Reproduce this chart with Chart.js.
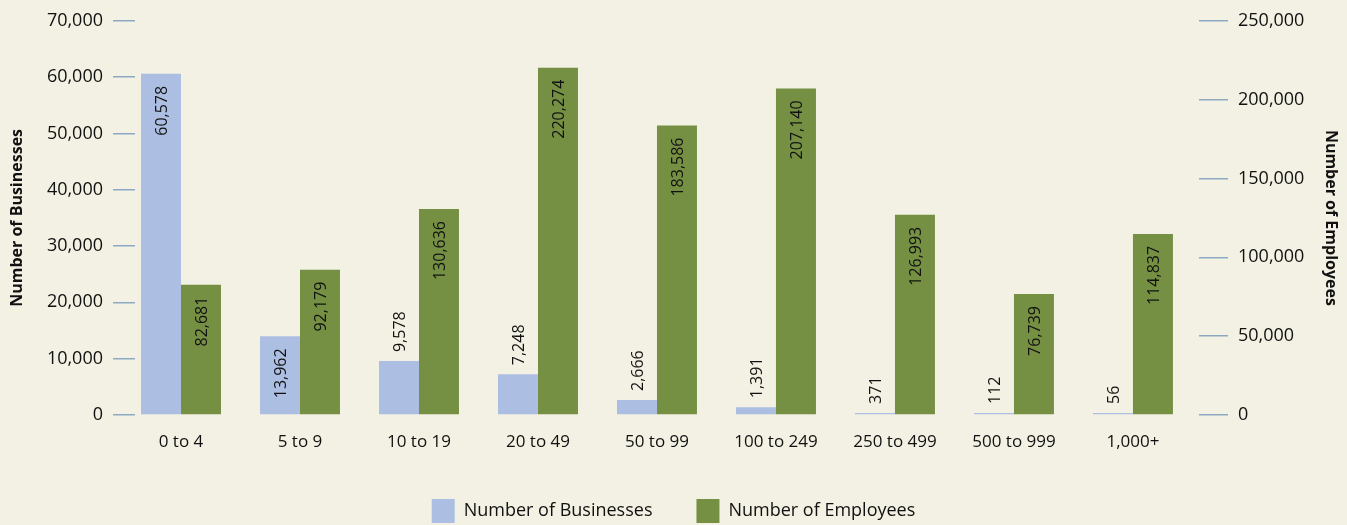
<!DOCTYPE html>
<html>
<head>
<meta charset="utf-8">
<script src="https://cdn.jsdelivr.net/npm/chart.js@4/dist/chart.umd.min.js"></script>
<style>
  html, body { margin: 0; padding: 0; background: #f3f1e3; }
  canvas { display: block; }
</style>
</head>
<body>
<canvas id="chart" width="1347" height="525"></canvas>
<script>
const categories = ['0 to 4', '5 to 9', '10 to 19', '20 to 49', '50 to 99', '100 to 249', '250 to 499', '500 to 999', '1,000+'];
const businesses = [60578, 13962, 9578, 7248, 2666, 1391, 371, 112, 56];
const employees = [82681, 92179, 130636, 220274, 183586, 207140, 126993, 76739, 114837];
const leftTicks = [0, 10000, 20000, 30000, 40000, 50000, 60000, 70000];
const rightTicks = [0, 50000, 100000, 150000, 200000, 250000];

const FONT = '"Open Sans", "Noto Sans", sans-serif';
const tickColor = '#8ca8c2';
const fmt = v => v.toLocaleString('en-US');

// value labels drawn rotated, inside the bar top when they fit, else above it
const barLabels = {
  id: 'barLabels',
  afterDatasetsDraw(chart) {
    const ctx = chart.ctx;
    ctx.save();
    ctx.font = '16px ' + FONT;
    ctx.fillStyle = '#111';
    ctx.textBaseline = 'middle';
    chart.data.datasets.forEach((ds, di) => {
      const meta = chart.getDatasetMeta(di);
      meta.data.forEach((bar, i) => {
        const text = fmt(ds.data[i].y);
        const w = ctx.measureText(text).width;
        const h = bar.base - bar.y;
        ctx.save();
        ctx.translate(bar.x + 1, bar.y);
        ctx.rotate(-Math.PI / 2);
        if (h > w + 22) {
          ctx.textAlign = 'right';
          ctx.fillText(text, -12, 0);
        } else {
          ctx.textAlign = 'left';
          ctx.fillText(text, 9, 0);
        }
        ctx.restore();
      });
    });
    ctx.restore();
  }
};

new Chart(document.getElementById('chart'), {
  type: 'bar',
  data: {
    datasets: [
      {
        label: 'Number of Businesses',
        data: businesses.map((v, i) => ({ x: i, y: v })),
        backgroundColor: '#adbee3',
        yAxisID: 'y',
        categoryPercentage: 0.672,
        barPercentage: 1,
        minBarLength: 2
      },
      {
        label: 'Number of Employees',
        data: employees.map((v, i) => ({ x: i, y: v })),
        backgroundColor: '#758f43',
        yAxisID: 'y2',
        categoryPercentage: 0.672,
        barPercentage: 1
      }
    ]
  },
  options: {
    responsive: false,
    animation: false,
    layout: { padding: { top: 9, bottom: -8, left: 0, right: 0 } },
    plugins: {
      tooltip: { enabled: false },
      legend: {
        position: 'bottom',
        labels: {
          boxWidth: 23,
          boxHeight: 24,
          padding: 44,
          color: '#111',
          font: { family: FONT, size: 18 }
        }
      }
    },
    scales: {
      x: {
        type: 'linear',
        offset: false,
        min: -0.3866,
        max: 8.555,
        grid: { display: false },
        border: { display: false },
        afterBuildTicks: s => { s.ticks = categories.map((_, i) => ({ value: i })); },
        afterFit: s => { s.height = 40; },
        ticks: {
          padding: 9,
          color: '#111',
          font: { family: FONT, size: 17 },
          callback: v => categories[v]
        }
      },
      y: {
        position: 'left',
        min: 0,
        max: 70000,
        afterBuildTicks: s => { s.ticks = leftTicks.map(v => ({ value: v })); },
        afterFit: s => { s.width = 135; },
        border: { display: false },
        grid: { drawOnChartArea: false, drawTicks: true, tickLength: 22, color: tickColor, lineWidth: 1.5 },
        ticks: {
          padding: 10,
          color: '#111',
          font: { family: FONT, size: 18 },
          callback: v => fmt(v)
        },
        title: {
          display: true,
          text: 'Number of Businesses',
          color: '#111',
          font: { family: FONT, size: 16, weight: 'bold' },
          padding: { top: 8, bottom: 0 }
        }
      },
      y2: {
        position: 'right',
        min: 0,
        max: 250000,
        afterBuildTicks: s => { s.ticks = rightTicks.map(v => ({ value: v })); },
        afterFit: s => { s.width = 148; },
        border: { display: false },
        grid: { drawOnChartArea: false, drawTicks: true, tickLength: 29, color: tickColor, lineWidth: 1.5 },
        ticks: {
          padding: 10,
          color: '#111',
          font: { family: FONT, size: 18 },
          callback: v => fmt(v)
        },
        title: {
          display: true,
          text: 'Number of Employees',
          color: '#111',
          font: { family: FONT, size: 16, weight: 'bold' },
          padding: { top: 7, bottom: 0 }
        }
      }
    }
  },
  plugins: [barLabels]
});
</script>
</body>
</html>
